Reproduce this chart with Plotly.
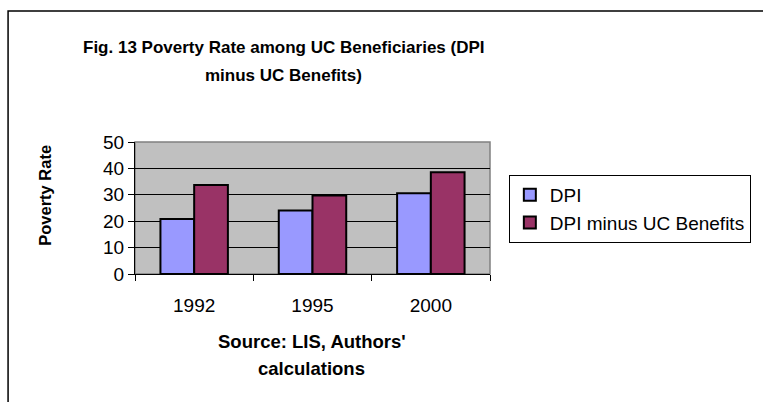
import plotly.graph_objects as go

years = ["1992", "1995", "2000"]
dpi = [20.8, 24.1, 30.6]
dpi_minus_uc = [33.7, 29.7, 38.5]
series_names = ["DPI", "DPI minus UC Benefits"]
y_ticks = [0, 10, 20, 30, 40, 50]

title_lines = ["Fig. 13 Poverty Rate among UC Beneficiaries (DPI", "minus UC Benefits)"]
xtitle_lines = ["Source: LIS, Authors'", "calculations"]
ytitle_text = "Poverty Rate"

W, H = 763, 402
L, R, T, B = 135, 493, 142, 274

def px(xp):
    return (xp - L) / (R - L)

def py(yp):
    return (B - yp) / (B - T)

SANS = "Liberation Sans, Arial, sans-serif"

fig = go.Figure()
fig.add_trace(go.Bar(x=years, y=dpi, name=series_names[0],
                     marker=dict(color="#9999FF", line=dict(color="black", width=2))))
fig.add_trace(go.Bar(x=years, y=dpi_minus_uc, name=series_names[1],
                     marker=dict(color="#993366", line=dict(color="black", width=2))))

annotations = []
for line, yy in zip(title_lines, [47, 75]):
    annotations.append(dict(text="<b>" + line + "</b>", xref="paper", yref="paper",
                            x=px(285), y=py(yy), xanchor="center", yanchor="middle",
                            showarrow=False, font=dict(family=SANS, size=17, color="black")))
for line, yy in zip(xtitle_lines, [341, 368]):
    annotations.append(dict(text="<b>" + line + "</b>", xref="paper", yref="paper",
                            x=px(313), y=py(yy), xanchor="center", yanchor="middle",
                            showarrow=False, font=dict(family=SANS, size=18.5, color="black")))
annotations.append(dict(text="<b>" + ytitle_text + "</b>", xref="paper", yref="paper",
                        x=px(44), y=py(195), xanchor="center", yanchor="middle",
                        textangle=-90, showarrow=False,
                        font=dict(family=SANS, size=16.5, color="black")))

fig.update_layout(
    width=W, height=H,
    margin=dict(l=L, r=W - R, t=T, b=H - B, pad=0),
    paper_bgcolor="white",
    plot_bgcolor="#C0C0C0",
    barmode="group",
    bargap=0.43,
    bargroupgap=0,
    font=dict(family=SANS, color="black", size=19),
    showlegend=True,
    legend=dict(
        x=px(512), y=py(175), xanchor="left", yanchor="top",
        bgcolor="white", bordercolor="black", borderwidth=1,
        font=dict(family=SANS, size=19, color="black"),
        traceorder="normal",
    ),
    xaxis=dict(
        showline=True, linecolor="black", linewidth=1,
        ticks="outside", ticklen=6, tickcolor="black", tickson="boundaries",
        showgrid=False, tickfont=dict(size=19),
        ticklabelstandoff=14,
    ),
    yaxis=dict(
        range=[0, 50], tickvals=y_ticks,
        showline=True, linecolor="black", linewidth=1,
        ticks="outside", ticklen=6, tickcolor="black",
        showgrid=True, gridcolor="black", gridwidth=1,
        zeroline=False, tickfont=dict(size=19),
    ),
    shapes=[
        dict(type="rect", xref="x domain", yref="y domain", x0=0, x1=1, y0=0, y1=1,
             line=dict(color="#808080", width=1.5), layer="below"),
        dict(type="rect", xref="paper", yref="paper",
             x0=px(7), x1=px(800), y0=py(440), y1=py(11),
             line=dict(color="black", width=1.5), layer="below"),
    ],
    annotations=annotations,
)

fig.write_html("out.html",
               config={"displayModeBar": False},
               post_script="document.body.style.margin='0';document.body.style.overflow='hidden';")
